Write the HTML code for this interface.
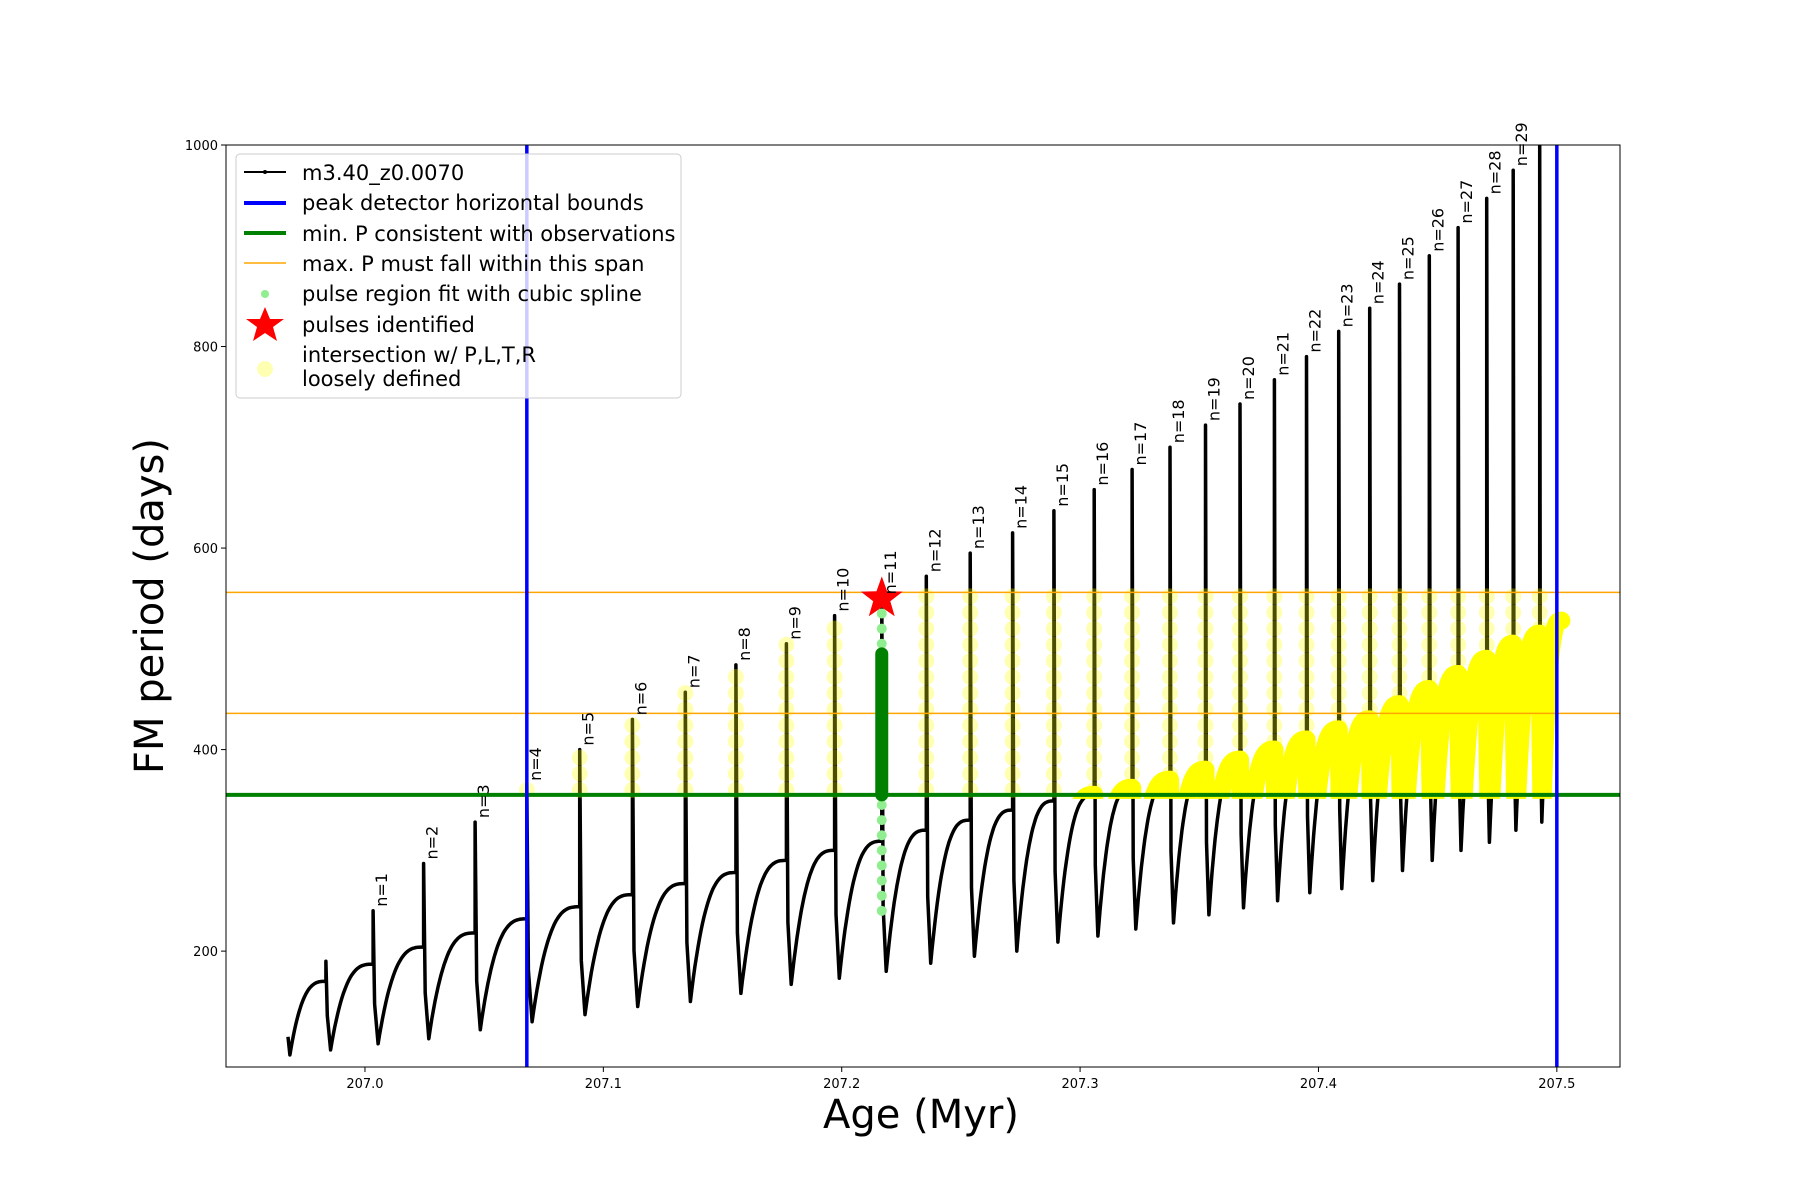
<!DOCTYPE html>
<html><head><meta charset="utf-8"><style>
body{margin:0;background:#fff}
svg{display:block;font-family:"DejaVu Sans","Liberation Sans",sans-serif}
</style></head><body>
<svg id="chart" width="1800" height="1200" viewBox="0 0 1800 1200">
<defs><clipPath id="yclip"><rect x="0" y="0" width="1800" height="0" id="yclipRect"/></clipPath>
<clipPath id="plotclip"><rect x="226" y="145" width="1394" height="922"/></clipPath></defs>
<rect x="0" y="0" width="1800" height="1200" fill="#fff"/>
<g id="plot" clip-path="url(#plotclip)"></g>
<rect x="226" y="145" width="1394" height="922" fill="none" stroke="#000" stroke-width="1"/>
<g id="axes"></g>
<text x="921" y="1128" font-size="40" text-anchor="middle">Age (Myr)</text>
<text transform="translate(163,606) rotate(-90)" font-size="40" text-anchor="middle">FM period (days)</text>
<g id="legend">
<rect x="236" y="154" width="445" height="244" rx="4" fill="#fff" fill-opacity="0.8" stroke="#ccc"/>
<g><line x1="244" y1="172" x2="286" y2="172" stroke="#000" stroke-width="2"/><circle cx="265" cy="172" r="2"/><text x="302" y="180" font-size="21">m3.40_z0.0070</text></g>
<g><line x1="244" y1="203" x2="286" y2="203" stroke="#0000ff" stroke-width="4"/><text x="302" y="210" font-size="21">peak detector horizontal bounds</text></g>
<g><line x1="244" y1="233" x2="286" y2="233" stroke="#008000" stroke-width="4"/><text x="302" y="241" font-size="21">min. P consistent with observations</text></g>
<g><line x1="244" y1="263" x2="286" y2="263" stroke="#ffa500" stroke-width="1.5"/><text x="302" y="271" font-size="21">max. P must fall within this span</text></g>
<g><circle cx="265" cy="294" r="4" fill="#90ee90"/><text x="302" y="301" font-size="21">pulse region fit with cubic spline</text></g>
<g><polygon points="265,307 270,319 284,319 273,327 277,341 265,333 253,341 257,327 246,319 260,319" fill="#ff0000"/><text x="302" y="332" font-size="21">pulses identified</text></g>
<g><circle cx="265" cy="369" r="8" fill="#ffff00" fill-opacity="0.3"/><text x="302" y="362" font-size="21">intersection w/ P,L,T,R</text><text x="302" y="386" font-size="21">loosely defined</text></g>
</g>
</svg>
<script>
const pulseAges=[206.9836,207.0034,207.0246,207.0462,207.0679,207.0901,207.1122,207.1344,207.1556,207.1768,207.1970,207.2168,207.2355,207.2539,207.2717,207.2890,207.3059,207.3218,207.3377,207.3526,207.3671,207.3815,207.3950,207.4085,207.4215,207.4340,207.4465,207.4586,207.4706,207.4817,207.4928];
const plateauP=[170,187,204,218,232,244,256,267,278,290,300,309,320,330,340,349,355,362,370,380,390,400,410,420,430,445,460,475,490,505,515];
const peakP=[190,240,287,328,365,400,430,457,484,505,533,550,572,595,615,637,658,678,700,722,743,767,790,815,838,862,890,918,947,975,1005];
const dipP=[102,108,113,122,130,137,145,150,158,167,173,180,188,195,200,209,215,222,228,236,243,250,258,262,270,280,290,300,308,320,328];
const pulseLabels=["","n=1","n=2","n=3","n=4","n=5","n=6","n=7","n=8","n=9","n=10","n=11","n=12","n=13","n=14","n=15","n=16","n=17","n=18","n=19","n=20","n=21","n=22","n=23","n=24","n=25","n=26","n=27","n=28","n=29",""];
const startAge=206.9677, startP=[115,97];
const endAge=207.5019, endP=528;
const boundAges=[207.0679,207.5];
const minP=355, maxPSpan=[436,556];
const identifiedAge=207.2168, identifiedP=550;
const splineDark=[355,495];
const splineLight=[240,255,270,285,300,315,330,345,505,520,535,550];
const xTicks=[207.0,207.1,207.2,207.3,207.4,207.5];
const yTicks=[200,400,600,800,1000];

const NS="http://www.w3.org/2000/svg";
const XL=226,XR=1620,YT=145,YB=1067;
const X=a=>XL+(a-206.9417)/(207.5265-206.9417)*(XR-XL);
const Y=p=>YT+(1000-p)/(1000-85)*(YB-YT);
const plot=document.getElementById('plot'), axes=document.getElementById('axes');
function mk(tag,attrs,parent){const e=document.createElementNS(NS,tag);for(const k in attrs)e.setAttribute(k,attrs[k]);parent.appendChild(e);return e;}

const pts=[], ypts=[];
function rise(a0,a1,p0,p1,arr){const n=30;for(let j=0;j<=n;j++){const f=j/n;const v=p0+(p1-p0)*(1-Math.pow(1-f,3));arr.push([a0+(a1-a0)*f,v]);}}
pts.push([startAge,startP[0]]);
const d0=pulseAges[0]-startAge;
rise(startAge+d0*0.05,pulseAges[0],startP[1],plateauP[0],pts);
for(let i=0;i<pulseAges.length;i++){
  const a=pulseAges[i];const next=i+1<pulseAges.length?pulseAges[i+1]:endAge;
  const nextP=i+1<plateauP.length?plateauP[i+1]:endP;const D=next-a;
  const seg=[[a,plateauP[i]],[a,peakP[i]],[a+D*0.03,(plateauP[i]+dipP[i])/2],[a+D*0.1,dipP[i]]];
  seg.forEach(p=>pts.push(p));
  const r=[];rise(a+D*0.1,next,dipP[i],nextP,r);r.forEach(p=>pts.push(p));
  if(a>207.29){const ys=[[a,plateauP[i]],[a+D*0.03,(plateauP[i]+dipP[i])/2],[a+D*0.1,dipP[i]]].concat(r);ypts.push(ys);}
}
{const ys=[];const a=pulseAges[15],D=pulseAges[16]-a;rise(a+D*0.1,pulseAges[16],dipP[15],plateauP[16],ys);ypts.unshift(ys.filter(p=>p[0]>207.295));}

const black=mk('polyline',{points:pts.map(p=>X(p[0]).toFixed(1)+','+Y(p[1]).toFixed(1)).join(' '),fill:'none',stroke:'#000','stroke-width':3.5,'stroke-linejoin':'round'},plot);



document.getElementById('yclipRect').setAttribute('height',Y(minP)+4);
const yg=mk('g',{'clip-path':'url(#yclip)'},plot);


ypts.forEach(s=>{const pl=mk('polyline',{points:s.map(p=>X(p[0]).toFixed(1)+','+Y(p[1]).toFixed(1)).join(' '),fill:'none',stroke:'#ffff00','stroke-width':18,'stroke-linecap':'round','stroke-linejoin':'round'},yg);

});

for(let i=4;i<pulseAges.length;i++){
  if(i===11)continue;
  const top=Math.min(peakP[i],552);
  for(let p=360;p<=top;p+=16){const c=mk('circle',{cx:X(pulseAges[i]),cy:Y(p),r:8,fill:'#ffff00','fill-opacity':0.3},plot);
  
  }
}

const gl=mk('line',{x1:XL,x2:XR,y1:Y(minP),y2:Y(minP),stroke:'#008000','stroke-width':4},plot);


maxPSpan.forEach(v=>{const l=mk('line',{x1:XL,x2:XR,y1:Y(v),y2:Y(v),stroke:'#ffa500','stroke-width':1.5},plot);

});
boundAges.forEach(a=>{const l=mk('line',{x1:X(a),x2:X(a),y1:YT,y2:YB,stroke:'#0000ff','stroke-width':3.5},plot);

});

splineLight.forEach(p=>{const c=mk('circle',{cx:X(identifiedAge),cy:Y(p),r:5,fill:'#90ee90'},plot);

});
const dg=mk('line',{x1:X(identifiedAge),x2:X(identifiedAge),y1:Y(splineDark[0]),y2:Y(splineDark[1]),stroke:'#008000','stroke-width':13,'stroke-linecap':'round'},plot);


{const cx=X(identifiedAge),cy=Y(identifiedP),R=22,r=9;let s=[];for(let k=0;k<10;k++){const ang=-Math.PI/2+k*Math.PI/5;const rr=k%2?r:R;s.push((cx+rr*Math.cos(ang)).toFixed(1)+','+(cy+rr*Math.sin(ang)).toFixed(1));}
const st=mk('polygon',{points:s.join(' '),fill:'#ff0000'},plot);

}

pulseLabels.forEach((t,i)=>{if(!t)return;const x=X(pulseAges[i])+14,y=Y(peakP[i])-4;
const tx=mk('text',{transform:`translate(${x.toFixed(1)},${y.toFixed(1)}) rotate(-90)`,'font-size':16},axes);tx.textContent=t;

});

xTicks.forEach(v=>{const x=X(v);mk('line',{x1:x,x2:x,y1:YB,y2:YB+5,stroke:'#000'},axes);
const t=mk('text',{x:x,y:YB+21,'font-size':13,'text-anchor':'middle'},axes);t.textContent=v.toFixed(1);

});
yTicks.forEach(v=>{const y=Y(v);mk('line',{x1:XL-5,x2:XL,y1:y,y2:y,stroke:'#000'},axes);
const t=mk('text',{x:XL-8,y:y+5,'font-size':13,'text-anchor':'end'},axes);t.textContent=v;

});
</script>
</body></html>
